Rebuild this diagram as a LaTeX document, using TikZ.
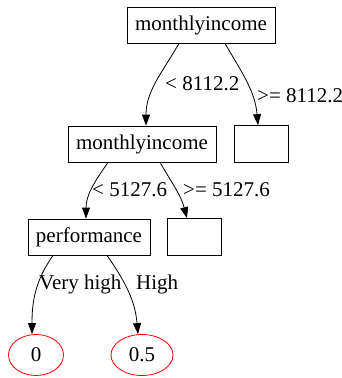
\documentclass[tikz,border=0pt]{standalone}
\usepackage{fontspec}
\setmainfont{Liberation Serif}
\usetikzlibrary{arrows.meta,shapes.geometric}

\tikzset{
  treefont/.style={font=\fontsize{21}{25}\selectfont},
  split/.style={draw, rectangle, treefont, minimum height=36pt, inner xsep=8pt, line width=0.8pt},
  emptybox/.style={split, minimum width=54pt, minimum height=37pt},
  leaf/.style={draw=red, ellipse, treefont, minimum width=55pt, minimum height=41pt, inner sep=0pt, line width=0.8pt},
  cond/.style={treefont, inner sep=0pt, anchor=base west},
  edge/.style={-{Triangle[length=11pt,width=8pt]}, line width=0.8pt}
}

\begin{document}
\begin{tikzpicture}[x=1pt,y=-1pt]
    \useasboundingbox (0,0) rectangle (342,378);

    % split nodes
    \node[split] (root) at (201,25) {monthlyincome};
    \node[split] (mi2) at (142,144) {monthlyincome};
    \node[emptybox] (rbox1) at (261,144) {};
    \node[split] (perf) at (89,237) {performance};
    \node[emptybox] (rbox2) at (194,237) {};

    % leaves
    \node[leaf] (leaf0) at (36,355) {0};
    \node[leaf, minimum width=62pt] (leaf5) at (142,355) {0.5};

    % edges
    \draw[edge] ([xshift=-22pt]root.south) to[out=-120,in=90] ([xshift=4pt]mi2.north);
    \draw[edge] ([xshift=24pt]root.south) to[out=-60,in=95] ([xshift=-3pt]rbox1.north);
    \draw[edge] ([xshift=-34pt]mi2.south) to[out=-125,in=90] ([xshift=-3pt]perf.north);
    \draw[edge] ([xshift=18pt]mi2.south) to[out=-60,in=105] ([xshift=-7pt]rbox2.north);
    \draw[edge] ([xshift=-36pt]perf.south) to[out=-125,in=90] ([xshift=-4pt]leaf0.north);
    \draw[edge] ([xshift=18pt]perf.south) to[out=-55,in=95] ([xshift=-4pt]leaf5.north);

    % edge labels
    \node[cond] (lt1) at (165,90) {< 8112.2};
    \node[cond] (ge1) at (257,102) {>= 8112.2};
    \node[cond] (lt2) at (92,196) {< 5127.6};
    \node[cond] (ge2) at (183,196) {>= 5127.6};
    \node[cond] (vhigh) at (39,289) {Very high};
    \node[cond] (high) at (136,289) {High};
\end{tikzpicture}
\end{document}
